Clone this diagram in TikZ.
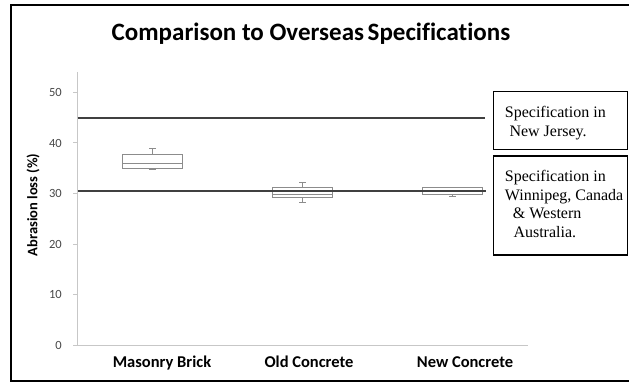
\documentclass[tikz,border=0pt]{standalone}
\usepackage{fontspec}
\setmainfont{Liberation Serif}
\newfontfamily\calib[Ligatures=NoCommon]{Carlito}
\tikzset{
  axisline/.style={draw=black!22, line width=1pt},
  ticklabel/.style={anchor=east, inner sep=0pt, text=black!72, font=\calib\fontsize{12.5}{14}\selectfont},
  catlabel/.style={anchor=base, inner sep=0pt, font=\calib\bfseries\fontsize{16.5}{18}\selectfont},
  speclimit/.style={draw=black!75, line width=1.6pt},
  boxpart/.style={draw=black!45, line width=0.8pt, fill=white},
  whisker/.style={draw=black!45, line width=0.8pt},
  notebox/.style={draw=black, line width=1.6pt},
  notetext/.style={anchor=base west, inner sep=0pt, font=\fontsize{16}{18.5}\selectfont},
}
\begin{document}
\begin{tikzpicture}[x=1pt,y=-1pt]
\useasboundingbox (0,0) rectangle (629,385);
\clip (0,0) rectangle (629,385);
% outer frame, running off the right edge
\draw[line width=2.5pt] (11,5) rectangle (660,381);

% title
\node[font=\calib\bfseries\fontsize{25}{28}\selectfont, inner sep=0pt] (title) at (311,34) {Comparison to Overseas\kern-2pt{} Specifications};

% axes
\draw[axisline] (77.5,72) -- (77.5,345) -- (527.5,345);
\foreach \v in {0,10,...,50} {
  \draw[axisline] (73,{345-5.05*\v}) -- (77.5,{345-5.05*\v});
  \node[ticklabel] (tick\v) at (62,{345-5.05*\v}) {\v};
}
\node[rotate=90, inner sep=0pt, font=\calib\bfseries\fontsize{14.5}{16}\selectfont] (ytitle) at (33,205) {Abrasion loss (\%)};

% category labels
\node[catlabel] (cat1) at (162,367.5) {Masonry Brick};
\node[catlabel] (cat2) at (309,367.5) {Old Concrete};
\node[catlabel] (cat3) at (465,367.5) {New Concrete};

% box plots: Masonry Brick
\draw[whisker] (152.5,154) -- (152.5,148.3) (149,148.3) -- (156,148.3);
\draw[whisker] (149,169) -- (156,169);
\draw[boxpart] (122.5,154) rectangle (182.5,168);
\draw[whisker] (122.5,163) -- (182.5,163);
% Old Concrete
\draw[whisker] (302.5,187) -- (302.5,182.3) (299,182.3) -- (306,182.3);
\draw[whisker] (302.5,197.7) -- (302.5,202.3) (299,202.3) -- (306,202.3);
\draw[boxpart] (272.5,187) rectangle (332.5,197.7);
\draw[whisker] (272.5,194) -- (332.5,194);
% New Concrete
\draw[whisker] (449,187.3) -- (456,187.3);
\draw[whisker] (452.5,194) -- (452.5,196) (449,196) -- (456,196);
\draw[boxpart] (422.5,187.7) rectangle (482.5,194);

% specification limits
\draw[speclimit] (77.5,118.3) -- (485,118.3);
\draw[speclimit] (77.5,191) -- (486,191);

% specification notes
\draw[notebox] (493.5,91.5) rectangle (627.5,149.5);
\node[notetext] (nj1) at (504.7,117.5) {Specification in};
\node[notetext] (nj2) at (509.3,136) {New Jersey.};

\draw[notebox] (493.5,156) rectangle (627.5,255);
\node[notetext] (wa1) at (504.7,181.5) {Specification in};
\node[notetext] (wa2) at (504.7,200) {Winnipeg, Canada};
\node[notetext] (wa3) at (512.7,218.5) {\& Western};
\node[notetext] (wa4) at (513.3,237.5) {Australia.};
\end{tikzpicture}
\end{document}
